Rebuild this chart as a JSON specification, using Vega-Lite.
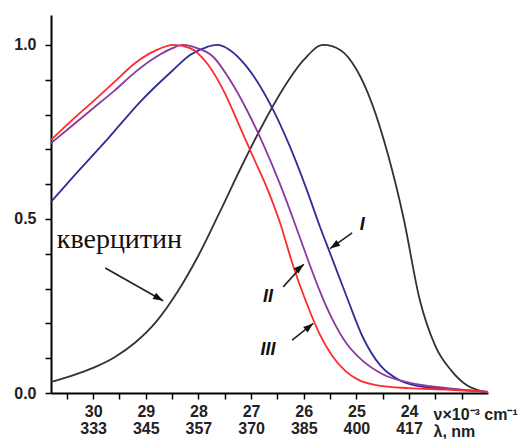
{
  "$schema": "https://vega.github.io/schema/vega-lite/v6.json",
  "width": 437,
  "height": 378,
  "autosize": {"type": "none"},
  "padding": {"left": 51, "top": 15, "right": 32, "bottom": 46},
  "background": "white",
  "view": {"stroke": null},
  "datasets": {
    "curves": [
      {"s": "Q", "nu": 30.8, "a": 0.032}, {"s": "Q", "nu": 30.4, "a": 0.05}, {"s": "Q", "nu": 30.0, "a": 0.072},
      {"s": "Q", "nu": 29.6, "a": 0.102}, {"s": "Q", "nu": 29.2, "a": 0.145}, {"s": "Q", "nu": 28.8, "a": 0.205},
      {"s": "Q", "nu": 28.4, "a": 0.29}, {"s": "Q", "nu": 28.0, "a": 0.395}, {"s": "Q", "nu": 27.6, "a": 0.518},
      {"s": "Q", "nu": 27.2, "a": 0.645}, {"s": "Q", "nu": 26.8, "a": 0.765}, {"s": "Q", "nu": 26.4, "a": 0.872},
      {"s": "Q", "nu": 26.0, "a": 0.957}, {"s": "Q", "nu": 25.63, "a": 1.0}, {"s": "Q", "nu": 25.3, "a": 0.985},
      {"s": "Q", "nu": 25.0, "a": 0.93}, {"s": "Q", "nu": 24.7, "a": 0.83}, {"s": "Q", "nu": 24.4, "a": 0.685},
      {"s": "Q", "nu": 24.1, "a": 0.5}, {"s": "Q", "nu": 23.8, "a": 0.27}, {"s": "Q", "nu": 23.5, "a": 0.135},
      {"s": "Q", "nu": 23.2, "a": 0.065}, {"s": "Q", "nu": 22.9, "a": 0.022}, {"s": "Q", "nu": 22.6, "a": 0.004},
      {"s": "Q", "nu": 22.5, "a": 0.0},

      {"s": "I", "nu": 30.8, "a": 0.549}, {"s": "I", "nu": 30.38, "a": 0.621}, {"s": "I", "nu": 29.74, "a": 0.727},
      {"s": "I", "nu": 29.11, "a": 0.836}, {"s": "I", "nu": 28.48, "a": 0.928}, {"s": "I", "nu": 28.16, "a": 0.971},
      {"s": "I", "nu": 27.84, "a": 0.994}, {"s": "I", "nu": 27.65, "a": 1.0}, {"s": "I", "nu": 27.4, "a": 0.985},
      {"s": "I", "nu": 27.08, "a": 0.937}, {"s": "I", "nu": 26.6, "a": 0.819}, {"s": "I", "nu": 26.26, "a": 0.707},
      {"s": "I", "nu": 25.94, "a": 0.583}, {"s": "I", "nu": 25.69, "a": 0.477}, {"s": "I", "nu": 25.5, "a": 0.402},
      {"s": "I", "nu": 25.18, "a": 0.275}, {"s": "I", "nu": 24.87, "a": 0.158}, {"s": "I", "nu": 24.55, "a": 0.08},
      {"s": "I", "nu": 24.17, "a": 0.036}, {"s": "I", "nu": 23.79, "a": 0.019}, {"s": "I", "nu": 23.28, "a": 0.012},
      {"s": "I", "nu": 22.5, "a": 0.003},

      {"s": "II", "nu": 30.8, "a": 0.718}, {"s": "II", "nu": 30.4, "a": 0.768}, {"s": "II", "nu": 30.0, "a": 0.818},
      {"s": "II", "nu": 29.6, "a": 0.868}, {"s": "II", "nu": 29.2, "a": 0.922}, {"s": "II", "nu": 28.8, "a": 0.966},
      {"s": "II", "nu": 28.5, "a": 0.99}, {"s": "II", "nu": 28.3, "a": 1.0},
      {"s": "II", "nu": 28.03, "a": 0.991}, {"s": "II", "nu": 27.72, "a": 0.966}, {"s": "II", "nu": 27.4, "a": 0.899},
      {"s": "II", "nu": 27.08, "a": 0.813}, {"s": "II", "nu": 26.77, "a": 0.715}, {"s": "II", "nu": 26.45, "a": 0.6},
      {"s": "II", "nu": 26.2, "a": 0.5}, {"s": "II", "nu": 25.95, "a": 0.395}, {"s": "II", "nu": 25.7, "a": 0.295},
      {"s": "II", "nu": 25.45, "a": 0.21}, {"s": "II", "nu": 25.2, "a": 0.145}, {"s": "II", "nu": 24.9, "a": 0.095},
      {"s": "II", "nu": 24.5, "a": 0.054}, {"s": "II", "nu": 24.0, "a": 0.03}, {"s": "II", "nu": 23.28, "a": 0.014},
      {"s": "II", "nu": 22.5, "a": 0.003},

      {"s": "III", "nu": 30.8, "a": 0.727}, {"s": "III", "nu": 30.4, "a": 0.784}, {"s": "III", "nu": 30.0, "a": 0.838},
      {"s": "III", "nu": 29.6, "a": 0.893}, {"s": "III", "nu": 29.2, "a": 0.948}, {"s": "III", "nu": 28.8, "a": 0.985},
      {"s": "III", "nu": 28.48, "a": 1.0}, {"s": "III", "nu": 28.16, "a": 0.991},
      {"s": "III", "nu": 27.84, "a": 0.948}, {"s": "III", "nu": 27.53, "a": 0.871}, {"s": "III", "nu": 27.21, "a": 0.764},
      {"s": "III", "nu": 26.96, "a": 0.678}, {"s": "III", "nu": 26.7, "a": 0.59}, {"s": "III", "nu": 26.45, "a": 0.489},
      {"s": "III", "nu": 26.2, "a": 0.365}, {"s": "III", "nu": 25.95, "a": 0.26}, {"s": "III", "nu": 25.7, "a": 0.17},
      {"s": "III", "nu": 25.45, "a": 0.105}, {"s": "III", "nu": 25.2, "a": 0.062}, {"s": "III", "nu": 24.95, "a": 0.037},
      {"s": "III", "nu": 24.6, "a": 0.022}, {"s": "III", "nu": 24.0, "a": 0.014}, {"s": "III", "nu": 23.28, "a": 0.01},
      {"s": "III", "nu": 22.5, "a": 0.003}
    ],
    "arrows": [
      {"id": "Q", "nu": 29.77, "a": 0.359, "nu2": 28.67, "a2": 0.265},
      {"id": "I", "nu": 25.08, "a": 0.46, "nu2": 25.5, "a2": 0.415},
      {"id": "II", "nu": 26.39, "a": 0.305, "nu2": 26.0, "a2": 0.37},
      {"id": "III", "nu": 26.22, "a": 0.152, "nu2": 25.82, "a2": 0.2}
    ],
    "heads": [
      {"id": "Q", "nu": 28.67, "a": 0.265},
      {"id": "I", "nu": 25.5, "a": 0.415},
      {"id": "II", "nu": 26.0, "a": 0.37},
      {"id": "III", "nu": 25.82, "a": 0.2}
    ],
    "labels": [
      {"t": "I", "nu": 24.89, "a": 0.483},
      {"t": "II", "nu": 26.68, "a": 0.276},
      {"t": "III", "nu": 26.68, "a": 0.124}
    ],
    "names": [
      {"t": "кверцитин", "nu": 30.69, "a": 0.417}
    ]
  },
  "encoding": {
    "x": {
      "field": "nu", "type": "quantitative",
      "scale": {"domain": [22.5, 30.8], "reverse": true, "nice": false, "zero": false},
      "axis": {
        "values": [23, 23.5, 24, 24.5, 25, 25.5, 26, 26.5, 27, 27.5, 28, 28.5, 29, 29.5, 30, 30.5],
        "labelExpr": "(datum.value % 1 == 0 && datum.value >= 24 && datum.value <= 30) ? ['' + datum.value, format(10000 / datum.value, '.0f')] : ''",
        "labelFont": "Liberation Sans", "labelFontWeight": "bold", "labelFontSize": 16, "labelColor": "#222",
        "labelLineHeight": 17, "labelDx": 4, "labelPadding": 4, "labelOverlap": false, "labelFlush": false, "labelBound": false,
        "tickSize": 6, "tickColor": "black", "tickWidth": 1.5,
        "domainColor": "black", "domainWidth": 2, "grid": false,
        "title": ["ν×10⁻³ cm⁻¹", "λ, nm"],
        "titleFont": "Liberation Sans", "titleFontWeight": "bold", "titleFontSize": 16, "titleColor": "#222",
        "titleAlign": "left", "titleBaseline": "alphabetic", "titleX": 382, "titleY": 26, "titleLineHeight": 17, "titleAngle": 0
      }
    },
    "y": {
      "field": "a", "type": "quantitative",
      "scale": {"domain": [0, 1.086], "nice": false, "zero": false},
      "axis": {
        "values": [0, 0.1, 0.2, 0.3, 0.4, 0.5, 0.6, 0.7, 0.8, 0.9, 1],
        "labelExpr": "(datum.value == 0 || datum.value == 0.5 || datum.value == 1) ? format(datum.value, '.1f') : ''",
        "labelFont": "Liberation Sans", "labelFontWeight": "bold", "labelFontSize": 16, "labelColor": "#222",
        "labelPadding": 9, "labelOverlap": false, "labelFlush": false,
        "tickSize": 6, "tickColor": "black", "tickWidth": 1.5,
        "domainColor": "black", "domainWidth": 2, "grid": false, "title": null
      }
    }
  },
  "layer": [
    {
      "data": {"name": "curves"},
      "mark": {"type": "line", "strokeWidth": 1.8, "interpolate": "monotone"},
      "encoding": {
        "color": {
          "field": "s", "type": "nominal",
          "scale": {"domain": ["Q", "I", "II", "III"], "range": ["#333333", "#2E2E96", "#8A3A9E", "#FF2A2A"]},
          "legend": null
        },
        "detail": {"field": "s"}
      }
    },
    {
      "data": {"name": "arrows"},
      "mark": {"type": "rule", "color": "#222", "strokeWidth": 1.6},
      "encoding": {
        "x2": {"field": "nu2"},
        "y2": {"field": "a2"}
      }
    },
    {
      "data": {"name": "heads"},
      "transform": [{"filter": "datum.id == 'Q'"}],
      "mark": {"type": "point", "shape": "M0,0L-2,-0.7L-2,0.7Z", "size": 100, "filled": true, "color": "#111", "opacity": 1, "angle": 29}
    },
    {
      "data": {"name": "heads"},
      "transform": [{"filter": "datum.id == 'I'"}],
      "mark": {"type": "point", "shape": "M0,0L-2,-0.7L-2,0.7Z", "size": 100, "filled": true, "color": "#111", "opacity": 1, "angle": 146}
    },
    {
      "data": {"name": "heads"},
      "transform": [{"filter": "datum.id == 'II'"}],
      "mark": {"type": "point", "shape": "M0,0L-2,-0.7L-2,0.7Z", "size": 100, "filled": true, "color": "#111", "opacity": 1, "angle": -41}
    },
    {
      "data": {"name": "heads"},
      "transform": [{"filter": "datum.id == 'III'"}],
      "mark": {"type": "point", "shape": "M0,0L-2,-0.7L-2,0.7Z", "size": 100, "filled": true, "color": "#111", "opacity": 1, "angle": -39}
    },
    {
      "data": {"name": "labels"},
      "mark": {"type": "text", "font": "Liberation Sans", "fontWeight": "bold", "fontStyle": "italic", "fontSize": 18, "color": "#111", "align": "center", "baseline": "middle"},
      "encoding": {"text": {"field": "t"}}
    },
    {
      "data": {"name": "names"},
      "mark": {"type": "text", "font": "Liberation Serif", "fontSize": 28, "color": "#111", "align": "left", "baseline": "alphabetic"},
      "encoding": {"text": {"field": "t"}}
    }
  ]
}
